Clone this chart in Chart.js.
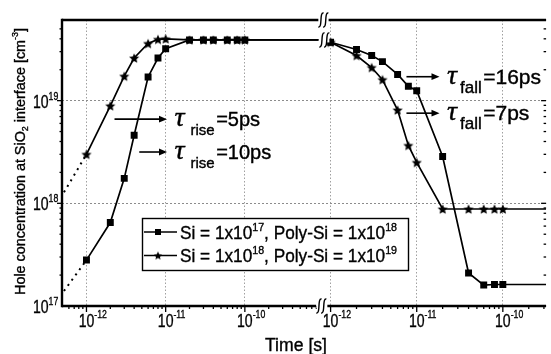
<!DOCTYPE html>
<html>
<head>
<meta charset="utf-8">
<title>Hole concentration at SiO2 interface vs time</title>
<script src="https://cdn.jsdelivr.net/npm/chart.js"></script>
<style>
html,body{margin:0;padding:0;background:#ffffff;overflow:hidden;}
#wrap{position:relative;width:551px;height:354px;}
canvas{display:block;}
</style>
</head>
<body>
<div id="wrap"><canvas id="chart" width="551" height="354"></canvas></div>
<script>
// ---------------- data ----------------
const riseTime = [1e-12, 2e-12, 3e-12, 4e-12, 6e-12, 8e-12, 1e-11, 2e-11, 3e-11, 4e-11, 6e-11, 8e-11, 1e-10];
const riseSi17 = [2.8e17, 6.5e17, 1.75e18, 4.6e18, 1.7e19, 2.6e19, 3.2e19, 3.9e19, 3.9e19, 3.9e19, 3.9e19, 3.9e19, 3.9e19];
const riseSi18 = [3.0e18, 8.9e18, 1.73e19, 2.6e19, 3.6e19, 3.95e19, 4.0e19, 3.9e19, 3.9e19, 3.9e19, 3.9e19, 3.9e19, 3.9e19];
const riseEndTime = 8.5e-10;                 // plateau continues to the axis break
const riseExtrapTime = [5.2e-13, 1e-12];     // dotted extrapolation before 1 ps
const riseExtrapSi17 = [1.4e17, 2.8e17];
const riseExtrapSi18 = [1.28e18, 3.0e18];
const fallTime = [1e-12, 2e-12, 3e-12, 4e-12, 6e-12, 8e-12, 1e-11, 2e-11, 4e-11, 6e-11, 8e-11, 1e-10];
const fallSi17 = [3.7e19, 3.15e19, 2.75e19, 2.4e19, 1.8e19, 1.38e19, 1.25e19, 2.86e18, 2.1e17, 1.6e17, 1.62e17, 1.62e17];
const fallSi18 = [3.7e19, 2.75e19, 2.1e19, 1.6e19, 8.1e18, 3.66e18, 2.5e18, 8.8e17, 8.8e17, 8.8e17, 8.8e17, 8.8e17];
const fallEndTime = 3.18e-10;                // last level continues to the right edge
const seriesLabels = ['Si = 1x10¹⁷, Poly-Si = 1x10¹⁸', 'Si = 1x10¹⁸, Poly-Si = 1x10¹⁹'];
const xTickValues = [1e-12, 1e-11, 1e-10];
const yTickValues = [1e17, 1e18, 1e19];
const xTitle = 'Time [s]';
const yTitle = 'Hole concentration at SiO₂ interface [cm⁻³]';
const leftRange = [4.91e-13, 9.8e-10];
const rightRange = [8.24e-13, 3.18e-10];
const yRange = [1e17, 6.1e19];
const noteAxis = ['x1', 'x1', 'x2', 'x2'];
const noteFrom = [2.26e-12, 4.64e-12, 7.6e-12, 7.6e-12];
const noteTo = [1.04e-11, 1.04e-11, 1.84e-11, 1.84e-11];
const noteLevel = [6.6e18, 3.16e18, 1.71e19, 7.55e18];
const noteSub = ['rise', 'rise', 'fall', 'fall'];
const noteText = ['=5ps', '=10ps', '=16ps', '=7ps'];

// ---------------- helpers ----------------
const FAM = '"Liberation Sans", Arial, Helvetica, sans-serif';
const SUPMAP = {'⁰':'0','¹':'1','²':'2','³':'3','⁴':'4','⁵':'5','⁶':'6','⁷':'7','⁸':'8','⁹':'9','⁻':'-'};
const SUBMAP = {'₀':'0','₁':'1','₂':'2','₃':'3','₄':'4','₅':'5','₆':'6','₇':'7','₈':'8','₉':'9'};
const TO_SUP = Object.fromEntries(Object.entries(SUPMAP).map(([k, v]) => [v, k]));
function sup(s) { return String(s).split('').map(c => TO_SUP[c] || c).join(''); }
function runsOf(text) {
  const out = [];
  for (const ch of text) {
    let m = 'n', c = ch;
    if (SUPMAP[ch] !== undefined) { m = 'sup'; c = SUPMAP[ch]; }
    else if (SUBMAP[ch] !== undefined) { m = 'sub'; c = SUBMAP[ch]; }
    const last = out[out.length - 1];
    if (last && last.m === m) last.t += c; else out.push({m, t: c});
  }
  return out;
}
function fontFor(r, o) {
  const s = r.m === 'n' ? o.size : o.size * (o.small || 0.62);
  return (o.weight ? o.weight + ' ' : '') + s + 'px ' + (o.fam || FAM);
}
function drawRich(ctx, text, x, y, o) {
  const runs = runsOf(text);
  const ws = runs.map(r => { ctx.font = fontFor(r, o); return ctx.measureText(r.t).width; });
  const total = ws.reduce((a, b) => a + b, 0);
  const sx = o.width ? o.width / total : (o.sx || 1);
  let start = x;
  if (o.anchorFirst) start = x - ws[0] * sx / 2;
  else if (o.align === 'right') start = x - total * sx;
  else if (o.align === 'center') start = x - total * sx / 2;
  ctx.save();
  ctx.translate(start, y);
  ctx.scale(sx, 1);
  ctx.fillStyle = o.color || '#000';
  ctx.strokeStyle = o.color || '#000';
  ctx.lineWidth = 0.35;
  ctx.textAlign = 'left';
  ctx.textBaseline = 'alphabetic';
  let cx = 0;
  runs.forEach((r, i) => {
    ctx.font = fontFor(r, o);
    const dy = r.m === 'sup' ? -o.size * (o.rise || 0.45) : r.m === 'sub' ? o.size * (o.drop || 0.22) : 0;
    ctx.fillText(r.t, cx, dy);
    ctx.strokeText(r.t, cx, dy);
    cx += ws[i];
  });
  ctx.restore();
  return total * sx;
}
function isDecade(v) { const l = Math.log10(v); return Math.abs(l - Math.round(l)) < 1e-9; }
function isWhole(v) {
  const e = Math.floor(Math.log10(v) + 1e-9);
  const m = v / Math.pow(10, e);
  return Math.abs(m - Math.round(m)) < 1e-6;
}
function makeStar(r) {
  const s = Math.ceil(r * 2 + 3);
  const c = document.createElement('canvas'); c.width = s; c.height = s;
  const g = c.getContext('2d');
  g.fillStyle = '#000'; g.beginPath();
  for (let i = 0; i < 10; i++) {
    const a = -Math.PI / 2 + i * Math.PI / 5;
    const rr = (i % 2) ? r * 0.46 : r;
    const px = s / 2 + rr * Math.cos(a), py = s / 2 + 0.5 + rr * Math.sin(a);
    if (i === 0) g.moveTo(px, py); else g.lineTo(px, py);
  }
  g.closePath(); g.fill();
  return c;
}
const STAR = makeStar(5.3);
const STAR_SMALL = makeStar(4.4);
function series(ts, vs, endT) {
  const d = ts.map((t, i) => ({x: t, y: vs[i]}));
  if (endT) d.push({x: endT, y: vs[vs.length - 1]});
  return d;
}
function markerRadius(n) { return c => (c.dataIndex < n ? 4.9 : 0); }
const lineBase = {borderColor: '#000', backgroundColor: '#000', borderWidth: 1.7, tension: 0, fill: false,
  pointBackgroundColor: '#000', pointBorderColor: '#000', pointBorderWidth: 0, yAxisID: 'y'};

function breakMark(ctx, x, y, h) {
  ctx.save();
  ctx.fillStyle = '#fff';
  ctx.fillRect(x - 5, y - 2.5, 10, 5);
  ctx.strokeStyle = '#000'; ctx.lineWidth = 1.4;
  for (const dx of [-2.4, 2.4]) {
    const cx = x + dx;
    ctx.beginPath();
    ctx.moveTo(cx - 2.6, y + h / 2 - 0.5);
    ctx.bezierCurveTo(cx + 1.8, y + h / 2 + 0.5, cx - 1.8, y - h / 2 - 0.5, cx + 2.6, y - h / 2 + 0.5);
    ctx.stroke();
  }
  ctx.restore();
}

const decorPlugin = {
  id: 'decor',
  afterDraw(chart) {
    const ctx = chart.ctx, A = chart.chartArea, y = chart.scales.y;
    const xs = [chart.scales.x1, chart.scales.x2];
    const brk = chart.scales.x1.right;
    const seg = (a, b, c, d) => { ctx.beginPath(); ctx.moveTo(a, b); ctx.lineTo(c, d); ctx.stroke(); };
    ctx.save();
    ctx.strokeStyle = '#000'; ctx.fillStyle = '#000'; ctx.lineCap = 'butt';

    // tick marks
    ctx.lineWidth = 1.3;
    y.ticks.forEach(t => {
      if (!isWhole(t.value)) return;
      const p = y.getPixelForValue(t.value);
      if (p < A.top + 1 || p > A.bottom - 1) return;
      const L = isDecade(t.value) ? 5 : 2.5;
      seg(A.left - L, p, A.left, p);
      seg(A.right - L, p, A.right, p);
    });
    xs.forEach(s => s.ticks.forEach(t => {
      if (!isWhole(t.value)) return;
      const p = s.getPixelForValue(t.value);
      if (p < s.left + 1 || p > s.right - 1 || Math.abs(p - brk) < 6) return;
      const L = isDecade(t.value) ? 6 : 3;
      seg(p, A.bottom, p, A.bottom + L);
    }));

    // frame lines
    ctx.lineWidth = 2.4;
    seg(A.left, A.top - 1.2, A.left, A.bottom + 1.2);
    seg(A.left, A.bottom, brk - 7, A.bottom); seg(brk + 4, A.bottom, A.right, A.bottom);
    seg(A.left, A.top, brk - 4, A.top); seg(brk + 5, A.top, A.right, A.top);
    breakMark(ctx, brk - 2, A.bottom, 15);
    breakMark(ctx, brk, A.top, 15);
    breakMark(ctx, brk + 1, y.getPixelForValue(riseSi17[riseSi17.length - 1]), 15);

    // tick labels
    xs.forEach(s => xTickValues.forEach(v => {
      if (v < s.min || v > s.max) return;
      const p = s.getPixelForValue(v);
      drawRich(ctx, '10' + sup(Math.round(Math.log10(v))), p, A.bottom + 21, {size: 18, sx: 0.78, anchorFirst: true, rise: 0.5});
    }));
    yTickValues.forEach(v => {
      const p = y.getPixelForValue(v);
      drawRich(ctx, '10' + sup(Math.round(Math.log10(v))), A.left - 3.7, p + 7, {size: 18, sx: 0.78, align: 'right', rise: 0.45});
    });

    // axis titles
    drawRich(ctx, xTitle, 296, 350.5, {size: 17.5, align: 'center', width: 62});
    ctx.save();
    ctx.translate(24.5, 161.5);
    ctx.rotate(-Math.PI / 2);
    drawRich(ctx, yTitle, 0, 0, {size: 14.5, align: 'center', width: 267, drop: 0.25, rise: 0.42});
    ctx.restore();

    // legend
    const L = {x: 142, y: 218, w: 266, h: 52};
    ctx.fillStyle = '#fff'; ctx.fillRect(L.x, L.y, L.w, L.h);
    ctx.lineWidth = 1.4; ctx.strokeStyle = '#000';
    ctx.strokeRect(L.x + 0.5, L.y + 0.5, L.w, L.h);
    const rows = [232, 255.5];
    rows.forEach((yc, i) => {
      ctx.lineWidth = 1.7;
      seg(L.x + 2, yc, L.x + 35, yc);
      ctx.fillStyle = '#000';
      if (i === 0) ctx.fillRect(158 - 3, yc - 3, 6, 6);
      else ctx.drawImage(STAR_SMALL, 158 - STAR_SMALL.width / 2, yc - STAR_SMALL.height / 2);
      drawRich(ctx, seriesLabels[i], 180, yc + 6.6, {size: 18, width: 217, rise: 0.45});
    });

    // tau annotations with arrows
    noteText.forEach((txt, i) => {
      const s = chart.scales[noteAxis[i]];
      const x0 = s.getPixelForValue(noteFrom[i]), x1 = s.getPixelForValue(noteTo[i]);
      const yy = y.getPixelForValue(noteLevel[i]);
      const big = noteAxis[i] === 'x2';
      ctx.strokeStyle = '#000'; ctx.fillStyle = '#000'; ctx.lineWidth = 1.6;
      seg(x0, yy, x1 - 6, yy);
      ctx.beginPath(); ctx.moveTo(x1, yy); ctx.lineTo(x1 - 8, yy - 3.4); ctx.lineTo(x1 - 8, yy + 3.4); ctx.closePath(); ctx.fill();
      const base = yy + 7;
      const tx = x1 + 7.5;
      ctx.textAlign = 'left'; ctx.textBaseline = 'alphabetic';
      ctx.lineWidth = 0.4;
      ctx.font = 'italic 28px "Liberation Serif", "DejaVu Serif", serif';
      ctx.fillText('τ', tx, base); ctx.strokeText('τ', tx, base);
      ctx.font = (big ? 17 : 15) + 'px ' + FAM;
      const subX = tx + (big ? 13 : 16);
      ctx.fillText(noteSub[i], subX, base + 9); ctx.strokeText(noteSub[i], subX, base + 9);
      const sw = ctx.measureText(noteSub[i]).width;
      ctx.font = (big ? 21 : 20) + 'px ' + FAM;
      ctx.fillText(txt, subX + sw + 1.5, base); ctx.strokeText(txt, subX + sw + 1.5, base);
    });
    ctx.restore();
  }
};

const gridColor = c => (c.tick && isDecade(c.tick.value) && c.tick.value > yRange[0]) ? '#8c8c8c' : 'rgba(0,0,0,0)';
const xGridColor = c => (c.tick && isDecade(c.tick.value)) ? '#a0a0a0' : 'rgba(0,0,0,0)';

new Chart(document.getElementById('chart'), {
  type: 'line',
  data: {
    datasets: [
      {...lineBase, label: seriesLabels[0], xAxisID: 'x1', data: series(riseTime, riseSi17, riseEndTime), pointStyle: 'rect', pointRadius: markerRadius(riseTime.length)},
      {...lineBase, label: seriesLabels[0], xAxisID: 'x2', data: series(fallTime, fallSi17, fallEndTime), pointStyle: 'rect', pointRadius: markerRadius(fallTime.length)},
      {...lineBase, label: seriesLabels[1], xAxisID: 'x1', data: series(riseTime, riseSi18, riseEndTime), pointStyle: STAR, pointRadius: markerRadius(riseTime.length)},
      {...lineBase, label: seriesLabels[1], xAxisID: 'x2', data: series(fallTime, fallSi18, fallEndTime), pointStyle: STAR, pointRadius: markerRadius(fallTime.length)},
      {...lineBase, label: seriesLabels[0] + ' (extrapolated)', xAxisID: 'x1', data: series(riseExtrapTime, riseExtrapSi17), borderDash: [2, 4.5], borderWidth: 2, pointRadius: 0},
      {...lineBase, label: seriesLabels[1] + ' (extrapolated)', xAxisID: 'x1', data: series(riseExtrapTime, riseExtrapSi18), borderDash: [2, 4.5], borderWidth: 2, pointRadius: 0}
    ]
  },
  options: {
    responsive: false, animation: false, devicePixelRatio: 1, events: [],
    layout: {padding: {top: 20, left: 0, right: 0, bottom: 0}},
    plugins: {legend: {display: false}, tooltip: {enabled: false}, title: {display: false}},
    scales: {
      x1: {type: 'logarithmic', position: 'bottom', stack: 'time', stackWeight: 264, weight: 0,
        min: leftRange[0], max: leftRange[1], ticks: {display: false},
        grid: {color: xGridColor, drawTicks: false, lineWidth: 1, borderDash: [1.5, 2]},
        border: {display: false, dash: [1.5, 2]}, afterFit: s => { s.height = 48; }},
      x2: {type: 'logarithmic', position: 'bottom', stack: 'time', stackWeight: 225, weight: 1,
        min: rightRange[0], max: rightRange[1], ticks: {display: false},
        grid: {color: xGridColor, drawTicks: false, lineWidth: 1, borderDash: [1.5, 2]},
        border: {display: false, dash: [1.5, 2]}, afterFit: s => { s.height = 48; }},
      y: {type: 'logarithmic', position: 'left', min: yRange[0], max: yRange[1], ticks: {display: false},
        grid: {color: gridColor, drawTicks: false, lineWidth: 1, borderDash: [2, 2]},
        border: {display: false, dash: [2, 2]}, afterFit: s => { s.width = 62; }}
    }
  },
  plugins: [decorPlugin]
});
</script>
</body>
</html>
